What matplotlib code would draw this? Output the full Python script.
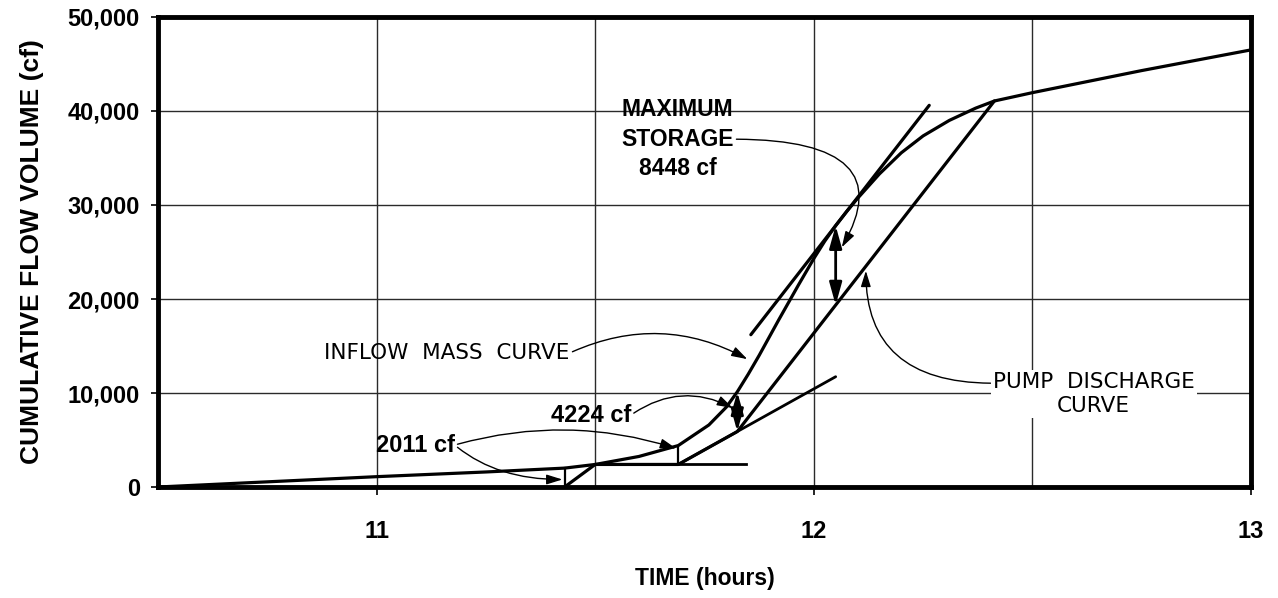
import matplotlib
matplotlib.use('Agg')
import matplotlib.pyplot as plt
from matplotlib.ticker import FuncFormatter


# inflow mass curve (time in hours, cumulative volume in cf)
inflow_t = [10.5, 10.75, 11.0, 11.25, 11.43, 11.5, 11.6, 11.69, 11.76, 11.8,
            11.825, 11.85, 11.875, 11.92, 11.965, 12.0, 12.025, 12.05, 12.075,
            12.1, 12.15, 12.2, 12.25, 12.31, 12.37, 12.413, 12.5, 12.75, 13.0]
inflow_v = [0, 550, 1100, 1600, 2011, 2400, 3250, 4411, 6600, 8500,
            10124, 12000, 14000, 17800, 21500, 24300, 26150, 27804, 29300,
            30700, 33300, 35550, 37350, 39000, 40300, 41064, 41950, 44300, 46500]

# pump discharge curve
pump_t = [11.43, 11.5, 11.69, 11.825, 12.413]
pump_v = [0, 2400, 2400, 5900, 41064]

# construction lines
flat_t = [11.5, 11.846]
flat_v = [2400, 2400]
rate_t = [11.69, 12.05]
rate_v = [2400, 11733]
tangent_t = [11.856, 12.264]
tangent_v = [16202, 40602]

# storage between the curves
store_t = [11.43, 11.69, 11.825, 12.05]
store_base = [0, 2400, 5900, 19356]
store_cf = [2011, 2011, 4224, 8448]

grid_hours = [11, 11.5, 12, 12.5]
x_ticks = [11, 12, 13]
y_ticks = [0, 10000, 20000, 30000, 40000, 50000]

ARIAL = 'Liberation Sans'
DRAFT = 'DejaVu Sans'

fig = plt.figure(figsize=(12.78, 5.98), dpi=100)
ax = fig.add_axes([0.1236, 0.1856, 0.8553, 0.786])
ax.set_xlim(10.5, 13)
ax.set_ylim(0, 50000)

# grid
for h in grid_hours:
    ax.axvline(h, color='#2a2a2a', lw=1.0, zorder=1)
for v in y_ticks[1:-1]:
    ax.axhline(v, color='#2a2a2a', lw=1.0, zorder=1)

# curves
ax.plot(inflow_t, inflow_v, color='k', lw=2.3, zorder=3, solid_capstyle='round')
ax.plot(pump_t, pump_v, color='k', lw=2.3, zorder=3, solid_capstyle='round')
ax.plot(flat_t, flat_v, color='k', lw=2.0, zorder=3)
ax.plot(rate_t, rate_v, color='k', lw=2.0, zorder=3, solid_capstyle='round')
ax.plot(tangent_t, tangent_v, color='k', lw=2.3, zorder=3, solid_capstyle='round')

# storage dimensions: plain ticks for the small ones, arrows for the others
for t, b, s in zip(store_t, store_base, store_cf):
    if s == 2011:
        ax.plot([t, t], [b, b + s], color='k', lw=1.6, zorder=3)
    else:
        ax.annotate('', xy=(t, b + s), xytext=(t, b),
                    arrowprops=dict(arrowstyle='<|-|>,head_length=0.9,head_width=0.25',
                                    color='k', lw=2.0, mutation_scale=15,
                                    shrinkA=0, shrinkB=0),
                    zorder=4)

leader = dict(arrowstyle='-|>,head_length=0.8,head_width=0.25', color='k',
              lw=1.0, mutation_scale=12, shrinkA=0, shrinkB=0)

# 2011 cf label with two leaders
ax.annotate('2011 cf', xy=(11.425, 800), xytext=(10.998, 4468),
            fontsize=17, fontweight='bold', family=ARIAL, ha='left', va='center',
            arrowprops=dict(leader, relpos=(1, 0.5),
                            connectionstyle='angle3,angleA=-40,angleB=0'))
ax.annotate('2011 cf', xy=(11.685, 4100), xytext=(10.998, 4468),
            fontsize=17, fontweight='bold', family=ARIAL, ha='left', va='center',
            alpha=0,
            arrowprops=dict(leader, relpos=(1, 0.5),
                            connectionstyle='arc3,rad=-0.15'))

ax.annotate('4224 cf', xy=(11.815, 8400), xytext=(11.49, 7660),
            fontsize=17, fontweight='bold', family=ARIAL, ha='center', va='center',
            arrowprops=dict(leader, relpos=(1, 0.5),
                            connectionstyle='arc3,rad=-0.3'))

ax.annotate('INFLOW  MASS  CURVE', xy=(11.848, 13600), xytext=(11.161, 14255),
            fontsize=15.5, family=DRAFT, ha='center', va='center',
            arrowprops=dict(leader, relpos=(1, 0.5),
                            connectionstyle='arc3,rad=-0.25'))

ax.annotate('MAXIMUM\nSTORAGE\n8448 cf', xy=(12.064, 25500), xytext=(11.688, 37000),
            fontsize=16.5, fontweight='bold', family=ARIAL, ha='center',
            va='center', linespacing=1.35,
            arrowprops=dict(leader, relpos=(1, 0.5),
                            connectionstyle='angle3,angleA=0,angleB=60'))

ax.annotate('PUMP  DISCHARGE\nCURVE', xy=(12.119, 23000), xytext=(12.64, 9894),
            fontsize=15.5, family=DRAFT, ha='center', va='center', linespacing=1.2,
            bbox=dict(boxstyle='square,pad=0.1', fc='white', ec='none'),
            arrowprops=dict(leader, relpos=(0, 0.75),
                            connectionstyle='angle3,angleA=0,angleB=90'))

# axes styling
for sp in ax.spines.values():
    sp.set_linewidth(3.5)
ax.set_xticks(x_ticks)
ax.set_yticks(y_ticks)
ax.yaxis.set_major_formatter(FuncFormatter(lambda v, p: '{:,}'.format(int(v))))
ax.tick_params(axis='x', length=6, width=1.2, pad=18, labelsize=17)
ax.tick_params(axis='y', length=5, width=1.2, pad=8, labelsize=17)
for lab in ax.get_xticklabels() + ax.get_yticklabels():
    lab.set_fontweight('bold')
    lab.set_family(ARIAL)

ax.set_xlabel('TIME (hours)', fontsize=16.5, fontweight='bold', family=ARIAL,
              labelpad=17)
ax.set_ylabel('CUMULATIVE FLOW VOLUME (cf)', fontsize=19, fontweight='bold',
              family=ARIAL, labelpad=17)

fig.savefig('out.png', dpi=100)
